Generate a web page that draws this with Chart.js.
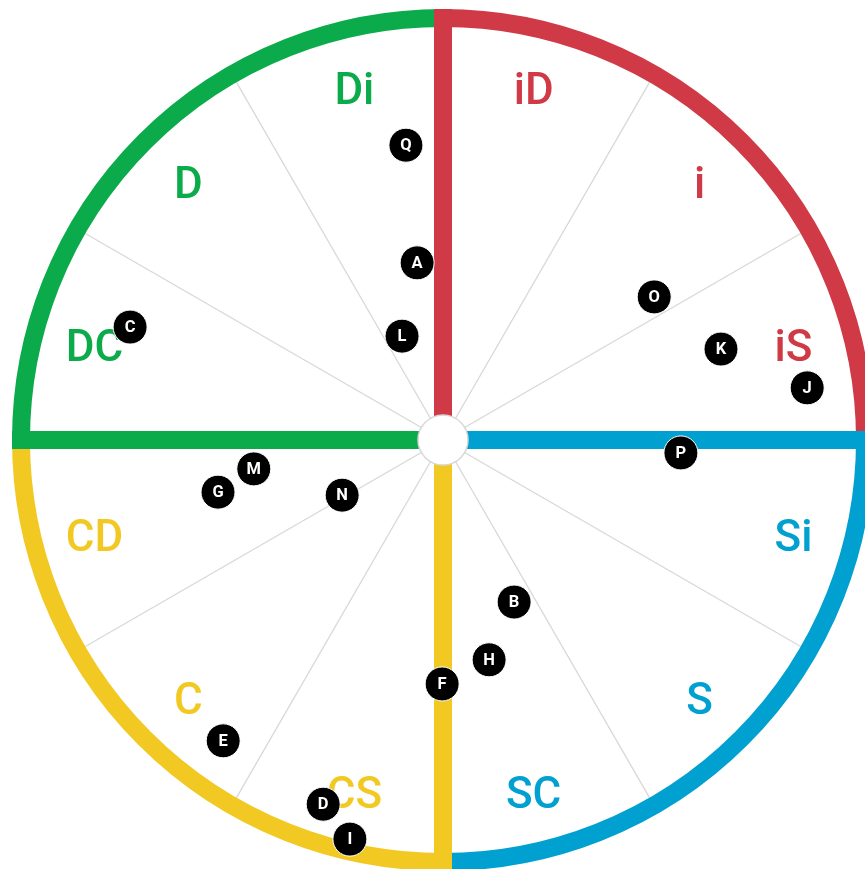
<!DOCTYPE html>
<html>
<head>
<meta charset="utf-8">
<script src="https://cdn.jsdelivr.net/npm/chart.js@4/dist/chart.umd.min.js"></script>
<style>
html,body{margin:0;padding:0;overflow:hidden;background:#fff;width:865px;height:869px;}
#c{position:absolute;left:0;top:0;}
</style>
</head>
<body>
<canvas id="c" width="886" height="880"></canvas>
<script>
// Wheel sectors (clockwise from the top), 30° each
const sectorLabels = ["iD","i","iS","Si","S","SC","CS","C","CD","DC","D","Di"];
const sectorColors = ["#cf3a46","#cf3a46","#cf3a46","#00a0d0","#00a0d0","#00a0d0","#f2c922","#f2c922","#f2c922","#0bab4b","#0bab4b","#0bab4b"];
// Quadrant colours, clockwise starting at the top (red, blue, yellow, green)
const quadrantColors = ["#cf3a46","#00a0d0","#f2c922","#0bab4b"];

// People plotted on the wheel (outer radius = 100)
const pointNames = ["Q","A","L","C","O","K","J","P","M","G","N","B","H","F","E","D","I"];
const pointX = [-8.6,-6.0,-9.5,-72.6,49.0,64.5,84.5,55.2,-43.9,-52.2,-23.4,16.5,10.7,-0.2,-51.0,-27.8,-21.6];
const pointY = [68.4,41.1,24.1,26.2,33.2,21.1,12.1,-3.0,-6.7,-12.1,-12.8,-37.6,-51.0,-56.6,-69.8,-84.5,-92.6];

const OUTER = 100, LABEL_R = 84.2, HOLE_R = 5.8;

const wheelPlugin = {
  id: 'wheel',
  beforeDatasetsDraw(chart) {
    const ctx = chart.ctx, xs = chart.scales.x, ys = chart.scales.y;
    const cx = xs.getPixelForValue(0), cy = ys.getPixelForValue(0);
    const R = xs.getPixelForValue(OUTER) - cx;
    const ring = R * 18 / 431;
    ctx.save();
    // spokes
    ctx.strokeStyle = '#d8d8d8';
    ctx.lineWidth = 1.3;
    for (let k = 0; k < 12; k++) {
      if (k % 3 === 0) continue;
      const a = -Math.PI/2 + k*Math.PI/6;
      ctx.beginPath();
      ctx.moveTo(cx, cy);
      ctx.lineTo(cx + Math.cos(a)*(R-ring), cy + Math.sin(a)*(R-ring));
      ctx.stroke();
    }
    // ring arcs
    ctx.lineCap = 'butt';
    ctx.lineWidth = ring;
    for (let q = 0; q < 4; q++) {
      const a0 = -Math.PI/2 + q*Math.PI/2;
      ctx.strokeStyle = quadrantColors[q];
      ctx.beginPath();
      ctx.arc(cx, cy, R - ring/2, a0, a0 + Math.PI/2);
      ctx.stroke();
    }
    // quadrant bars
    for (let q = 0; q < 4; q++) {
      const a0 = -Math.PI/2 + q*Math.PI/2;
      ctx.strokeStyle = quadrantColors[q];
      ctx.beginPath();
      ctx.moveTo(cx, cy);
      ctx.lineTo(cx + Math.cos(a0)*R, cy + Math.sin(a0)*R);
      ctx.stroke();
    }
    // centre hole
    const hr = xs.getPixelForValue(HOLE_R) - cx;
    ctx.fillStyle = '#fff';
    ctx.strokeStyle = '#d8d8d8';
    ctx.lineWidth = 1.5;
    ctx.beginPath();
    ctx.arc(cx, cy, hr, 0, Math.PI*2);
    ctx.fill();
    ctx.stroke();
    // sector labels
    ctx.font = '500 44px Roboto, "Noto Sans", sans-serif';
    ctx.textAlign = 'center';
    ctx.textBaseline = 'middle';
    const lr = xs.getPixelForValue(LABEL_R) - cx;
    sectorLabels.forEach((t, k) => {
      const a = -Math.PI/2 + (k + 0.5)*Math.PI/6;
      ctx.fillStyle = sectorColors[k];
      const dx = Math.cos(a)*lr, dy = Math.sin(a)*lr;
      const fx = Math.abs(Math.cos(a)) < 0.5 ? 0.965 : 1;
      ctx.fillText(t, cx + dx*fx + (dx < 0 ? 2 : 0), cy + dy + 4 + (dy > 0 ? 2 : 0));
    });
    ctx.restore();
  },
  afterDatasetsDraw(chart) {
    const ctx = chart.ctx;
    const meta = chart.getDatasetMeta(0);
    ctx.save();
    ctx.fillStyle = '#fff';
    ctx.font = 'bold 16.5px Roboto, "Noto Sans", sans-serif';
    ctx.textAlign = 'center';
    ctx.textBaseline = 'middle';
    meta.data.forEach((el, i) => {
      ctx.fillText(pointNames[i], el.x, el.y + 1);
    });
    ctx.restore();
  }
};

const XR = 886/2/4.31, YR = 880/2/4.31;
new Chart(document.getElementById('c'), {
  type: 'scatter',
  data: {
    labels: pointNames,
    datasets: [{
      data: pointX.map((x, i) => ({x: x, y: pointY[i]})),
      pointRadius: 17,
      pointHoverRadius: 17,
      pointBackgroundColor: '#000',
      pointBorderColor: '#fff',
      pointBorderWidth: 1
    }]
  },
  options: {
    responsive: false,
    devicePixelRatio: 1,
    animation: false,
    layout: {padding: 0, autoPadding: false},
    plugins: {legend: {display: false}, tooltip: {enabled: false}},
    scales: {
      x: {type: 'linear', min: -XR, max: XR, display: false},
      y: {type: 'linear', min: -YR, max: YR, display: false}
    }
  },
  plugins: [wheelPlugin]
});
</script>
</body>
</html>
